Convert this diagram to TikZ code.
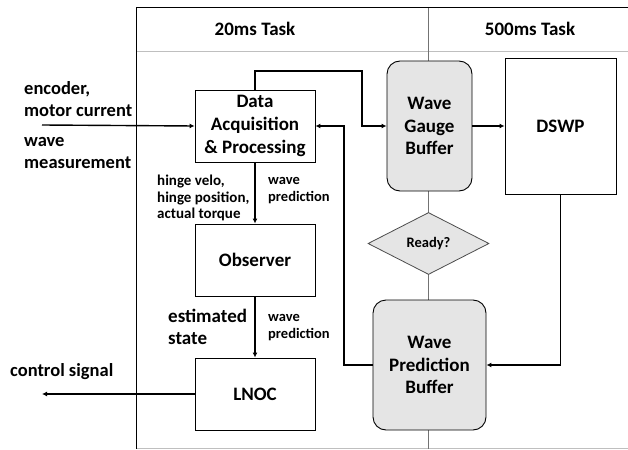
\documentclass[tikz,border=0pt]{standalone}
\usepackage{fontspec}
\setmainfont{Carlito}
\usepackage{tikz}
\usetikzlibrary{arrows.meta,shapes.geometric}
\tikzset{
  every node/.style={font=\bfseries},
  arrow/.style={-{Latex[length=5pt,width=5pt]}, line width=1.4pt},
}
% font size with leading factor
\newcommand{\fsl}[2]{\fontsize{#1pt}{#2\dimexpr#1pt\relax}\selectfont}
\newcommand{\fs}[1]{\fsl{#1}{1.2}}

\begin{document}
\begin{tikzpicture}[
        x=1pt, y=-1pt,
        box/.style={rectangle, draw, line width=0.9pt, fill=white, minimum width=120pt, minimum height=72pt, align=center, font=\bfseries\fs{19}},
        buffer/.style={rectangle, rounded corners=13pt, draw, line width=0.9pt, fill=black!10, align=center, font=\bfseries\fs{19}},
        decision/.style={diamond, draw=black!70, line width=0.8pt, fill=black!10, inner sep=0pt, font=\bfseries\fs{14.5}},
        label/.style={align=left, inner sep=0pt, anchor=west},
        frame/.style={line width=0.9pt},
        divider/.style={line width=0.8pt, black!25}
    ]
    \useasboundingbox (0,0) rectangle (628,449);

    % Task columns
    \draw[divider] (136,51) -- (628,51);
    \draw[divider] (136,448) -- (628,448);
    \draw[line width=0.7pt, black!55] (428,7) -- (428,449);
    \draw[frame] (628,7) -- (136,7) -- (136,449);
    \node[font=\bfseries\fs{19}] (fast) at (255,29) {20ms Task};
    \node[font=\bfseries\fs{19}] (slow) at (530,29) {500ms Task};

    % 20ms blocks
    \node[box] (dap) at (255,126) {Data\\Acquisition\\\& Processing};
    \node[box] (obs) at (255,260) {Observer};
    \node[box] (lnoc) at (255,394) {LNOC};

    % Buffers and 500ms block
    \node[buffer, minimum width=85pt, minimum height=130pt] (wgb) at (429.5,126) {Wave\\Gauge\\Buffer};
    \node[box, minimum width=111pt, minimum height=136pt] (dswp) at (560.5,126) {DSWP};
    \node[decision, minimum width=121pt, minimum height=62pt] (ready) at (428.5,243.5) {Ready?};
    \node[buffer, minimum width=113pt, minimum height=130pt] (wpb) at (429.5,365) {Wave\\Prediction\\Buffer};

    % Outside signals
    \coordinate (sensors) at (42,125);
    \coordinate (ctrl) at (42,394);
    \node[label, font=\bfseries\fsl{18.5}{1.17}] (enc) at (24,99) {encoder,\\motor current};
    \node[label, font=\bfseries\fsl{18.5}{1.2}] (meas) at (24,153) {wave\\measurement};
    \node[label, font=\bfseries\fs{18.5}] (ctrltext) at (10,372) {control signal};

    % Arrow labels
    \node[label, font=\bfseries\fsl{15}{1.1}] (hinge) at (157,198) {hinge velo,\\hinge position,\\actual torque};
    \node[label, font=\bfseries\fsl{14.5}{1.17}] (pred1) at (268,191) {wave\\prediction};
    \node[label, font=\bfseries\fsl{19}{1.17}] (est) at (168,327) {estimated\\state};
    \node[label, font=\bfseries\fsl{14.5}{1.17}] (pred2) at (268,328) {wave\\prediction};

    % Routing points
    \coordinate (gturn) at (362,71);
    \coordinate (fbturn) at (344,126);

    % Main flow
    \draw[arrow] (sensors) -- (dap.west);
    \draw[arrow] (dap) -- (obs);
    \draw[arrow] (obs) -- (lnoc);
    \draw[arrow] (lnoc.west) -- (ctrl);
    \draw[arrow] (dap.north) |- (gturn) |- (wgb.west);
    \draw[arrow] (wgb) -- (dswp);
    \draw[arrow] (dswp.south) |- (wpb.east);
    \draw[arrow] (wpb.west) -| (fbturn) -- (dap.east);

\end{tikzpicture}
\end{document}
